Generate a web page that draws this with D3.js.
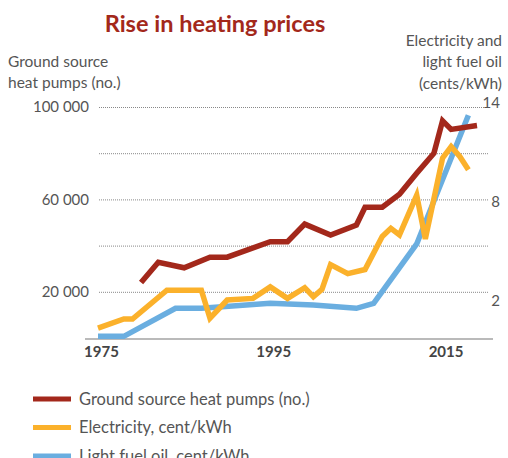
<!DOCTYPE html>
<html>
<head>
<meta charset="utf-8">
<script src="https://cdn.jsdelivr.net/npm/d3@7"></script>
<style>
	body { margin: 0; background: #fff; }
	svg text { font-family: Lato, "Open Sans", sans-serif; }
</style>
</head>
<body>
<div class="content"></div>
<script>
const w = 508;
const h = 458;

// heat pumps, number (left axis)
const pumpYears = [1980, 1982, 1985, 1988, 1990, 1995, 1997, 1999, 2002, 2005, 2006, 2008, 2010, 2012, 2014, 2015, 2016, 2019];
const pumpValues = [24000, 32800, 30400, 35000, 35000, 41700, 41700, 49300, 44600, 48900, 56600, 56600, 62200, 71300, 80000, 94000, 90300, 92000];

// electricity, cent/kWh (right axis)
const elecYears = [1975, 1978, 1979, 1983, 1987, 1988, 1990, 1993, 1995, 1997, 1999, 2000, 2001, 2002, 2004, 2006, 2008, 2009, 2010, 2012, 2013, 2015, 2016, 2017, 2018];
const elecValues = [0.6, 1.15, 1.15, 2.9, 2.9, 1.2, 2.3, 2.4, 3.1, 2.4, 3.05, 2.5, 2.95, 4.45, 3.9, 4.15, 6.15, 6.65, 6.25, 8.65, 6.0, 10.9, 11.6, 11.0, 10.2];

// light fuel oil, cent/kWh (right axis)
const oilYears = [1975, 1978, 1984, 1987, 1995, 2000, 2005, 2007, 2012, 2018];
const oilValues = [0.1, 0.1, 1.8, 1.8, 2.1, 2.0, 1.8, 2.1, 5.7, 13.5];

const leftTicks = [20000, 60000, 100000];
const gridTicks = [20000, 40000, 60000, 80000, 100000];
const rightTicks = [2, 8, 14];
const yearTicks = [1975, 1995, 2015];

const seriesNames = ['Ground source heat pumps (no.)', 'Electricity, cent/kWh', 'Light fuel oil, cent/kWh'];
const seriesColors = ['#a3281b', '#fbb12b', '#6aaee0'];

const fmt = d3.formatLocale({ decimal: ',', thousands: ' ', grouping: [3], currency: ['', ''] }).format(',');

const svg = d3.select('.content').append('svg')
	.attr('width', w)
	.attr('height', h);

const x = d3.scaleLinear().domain([1975, 2019]).range([98, 477]);
const yL = d3.scaleLinear().domain([0, 100000]).range([338, 107]);
const yR = d3.scaleLinear().domain([0, 14]).range([338, 107]);

svg.append('text')
	.attr('x', 215)
	.attr('y', 32)
	.attr('text-anchor', 'middle')
	.attr('font-size', 23.5)
	.attr('font-weight', 'bold')
	.attr('fill', '#a3281b')
	.text('Rise in heating prices');

// axis titles
svg.append('text')
	.attr('font-size', 15.5)
	.attr('fill', '#555')
	.selectAll('tspan')
	.data(['Ground source', 'heat pumps (no.)'])
	.join('tspan')
	.attr('x', 8)
	.attr('y', (d, i) => 67 + i * 21)
	.text(d => d);

svg.append('text')
	.attr('font-size', 15.5)
	.attr('fill', '#555')
	.attr('text-anchor', 'end')
	.selectAll('tspan')
	.data(['Electricity and', 'light fuel oil', '(cents/kWh)'])
	.join('tspan')
	.attr('x', 502)
	.attr('y', (d, i) => 46 + i * 21.3)
	.text(d => d);

// dotted grid
const grid = svg.append('g')
	.attr('transform', 'translate(99,0)')
	.call(d3.axisRight(yL).tickValues(gridTicks).tickSize(389).tickFormat(''));
grid.select('.domain').remove();
grid.selectAll('line')
	.attr('stroke', '#888')
	.attr('stroke-dasharray', '1,1');

// left labels
const left = svg.append('g')
	.attr('transform', 'translate(99,0)')
	.call(d3.axisLeft(yL).tickValues(leftTicks).tickSize(0).tickPadding(10).tickFormat(fmt));
left.select('.domain').remove();
left.selectAll('text')
	.attr('font-family', 'Lato, sans-serif')
	.attr('font-size', 15)
	.attr('fill', '#555');

// right labels
const right = svg.append('g')
	.attr('transform', 'translate(500,0)')
	.call(d3.axisRight(yR).tickValues(rightTicks).tickSize(0).tickPadding(0));
right.select('.domain').remove();
right.selectAll('text')
	.attr('text-anchor', 'end')
	.attr('dy', '0.05em')
	.attr('font-family', 'Lato, sans-serif')
	.attr('font-size', 15)
	.attr('fill', '#555');

// baseline + years
svg.append('line')
	.attr('x1', 85)
	.attr('x2', 493)
	.attr('y1', 339)
	.attr('y2', 339)
	.attr('stroke', '#777')
	.attr('stroke-width', 1.2);

const bottom = svg.append('g')
	.attr('transform', 'translate(3,339)')
	.call(d3.axisBottom(x).tickValues(yearTicks).tickSize(0).tickPadding(7).tickFormat(d3.format('d')));
bottom.select('.domain').remove();
bottom.selectAll('text')
	.attr('font-family', 'Lato, sans-serif')
	.attr('font-size', 15)
	.attr('font-weight', 'bold')
	.attr('fill', '#444');

// lines
const line = (ys, scale) => d3.line()
	.x((d, i) => x(ys[i]))
	.y(d => scale(d));

svg.append('path')
	.datum(oilValues)
	.attr('fill', 'none')
	.attr('stroke', seriesColors[2])
	.attr('stroke-width', 5.5)
	.attr('d', line(oilYears, yR));

svg.append('path')
	.datum(elecValues)
	.attr('fill', 'none')
	.attr('stroke', seriesColors[1])
	.attr('stroke-width', 5.5)
	.attr('d', line(elecYears, yR));

svg.append('path')
	.datum(pumpValues)
	.attr('fill', 'none')
	.attr('stroke', seriesColors[0])
	.attr('stroke-width', 5.5)
	.attr('d', line(pumpYears, yL));

// legend
const legend = svg.selectAll('.legend')
	.data(seriesNames)
	.enter()
	.append('g')
	.attr('class', 'legend')
	.attr('transform', (d, i) => `translate(33,${399 + i * 28.5})`);

legend.append('line')
	.attr('x1', 0)
	.attr('x2', 38)
	.attr('stroke', (d, i) => seriesColors[i])
	.attr('stroke-width', 5);

legend.append('text')
	.attr('x', 46)
	.attr('y', 0)
	.attr('dy', '0.35em')
	.attr('font-size', 16.5)
	.attr('fill', '#555')
	.text(d => d);
</script>
</body>
</html>
